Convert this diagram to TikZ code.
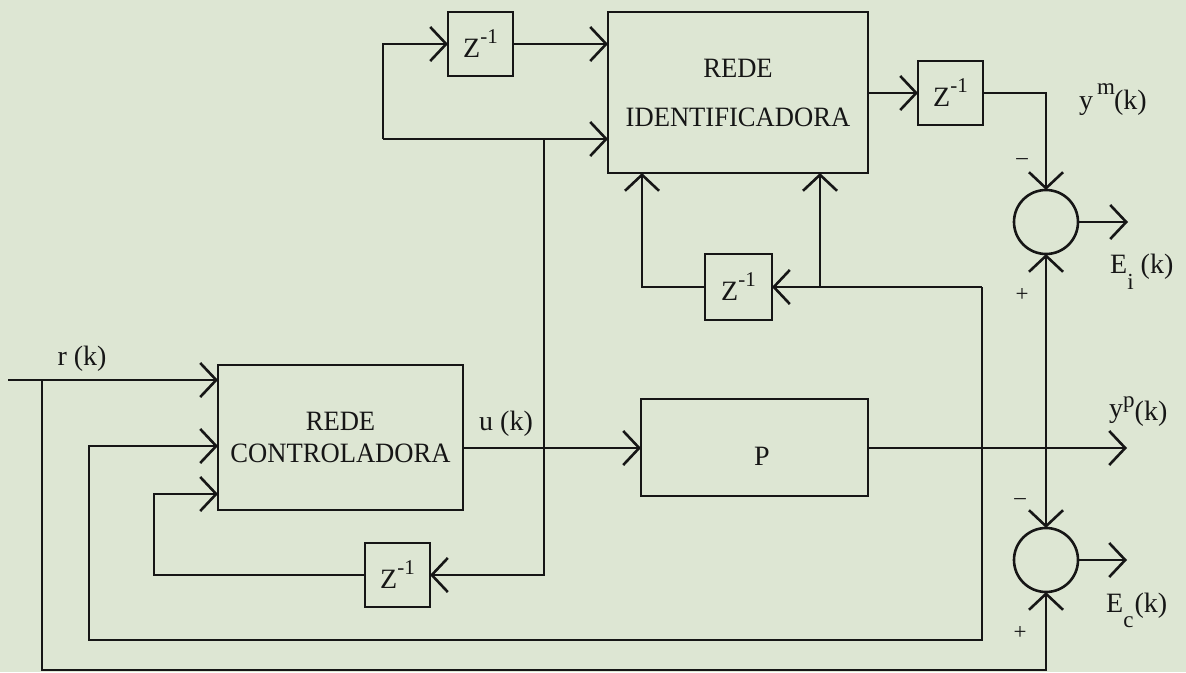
\documentclass[tikz,border=0pt]{standalone}
\usepackage{fontspec}
\setmainfont{Liberation Serif}
\newfontfamily\boxfont{Liberation Serif}[FakeStretch=0.95]
\usetikzlibrary{arrows.meta}
\definecolor{bgc}{RGB}{221,230,211}
\definecolor{inkc}{RGB}{22,22,22}
\newcommand{\zinv}{Z\raisebox{14pt}{\fontsize{21}{21}\selectfont -1}}
\newcommand{\smallsc}{\fontsize{23}{23}\selectfont}
\begin{document}
\begin{tikzpicture}[x=1pt,y=-1pt,
  every node/.style={text=inkc,font=\fontsize{28}{30}\selectfont},
  blk/.style={draw=inkc,line width=2.6pt,inner sep=0pt,outer sep=0pt,align=center},
  zbox/.style={blk,minimum width=65pt,minimum height=64pt},
  sumnode/.style={draw=inkc,line width=2.6pt,circle,minimum size=64pt,inner sep=0pt,outer sep=0pt},
  wire/.style={draw=inkc,line width=2.6pt,line join=miter},
  arr/.style={wire,-{Straight Barb[length=16pt,width=34pt]}},
  darr/.style={wire,{Straight Barb[length=16pt,width=34pt]}-{Straight Barb[length=16pt,width=34pt]}},
  sgn/.style={font=\fontsize{23}{23}\selectfont,inner sep=0pt}]
\useasboundingbox (0,0) rectangle (1186,672);
\fill[bgc] (0,0) rectangle (1186,672);

% blocks
\node[zbox] (z1) at (480.5,44) {\zinv};
\node[blk,minimum width=260pt,minimum height=161pt,font=\boxfont\fontsize{28}{49}\selectfont] (ident) at (738,92.5) {REDE\\IDENTIFICADORA};
\node[zbox] (z3) at (950.5,93) {\zinv};
\node[zbox,minimum width=67pt,minimum height=66pt] (z2) at (738.5,287) {\zinv};
\node[blk,minimum width=245pt,minimum height=145pt,font=\boxfont\fontsize{28}{32}\selectfont] (ctrl) at (340.5,437.5) {REDE\\CONTROLADORA};
\node[blk,minimum width=227pt,minimum height=97pt] (P) at (754.5,447.5) {};
\node[inner sep=0pt] (Pt) at (762,456) {P};
\node[zbox] (z4) at (397.5,575) {\zinv};
\node[sumnode] (s1) at (1046,222) {};
\node[sumnode] (s2) at (1046,560) {};

% coordinates
\coordinate (rin) at (8,380);
\coordinate (rj) at (42,380);
\coordinate (bot) at (1046,670);
\coordinate (fb) at (982,287);
\coordinate (fbb) at (982,640);
\coordinate (in2) at (89,446);
\coordinate (in3) at (154,494);
\coordinate (uj) at (544,448);
\coordinate (ut) at (544,139);
\coordinate (ub) at (544,575);
\coordinate (tl) at (383,139);
\coordinate (b1) at (642,287);
\coordinate (b2) at (820,287);
\coordinate (yp) at (1127,448);
\coordinate (ei) at (1128,222);
\coordinate (ec) at (1127,560);

% connectors
\draw[arr] (rin) -- (ctrl.west |- rin);
\draw[arr] (rj) |- (bot) -- (s2.south);
\draw[arr] (fb) -- (fbb) -| (in2) -- (ctrl.west |- in2);
\draw[arr] (fb) -- (z2.east);
\draw[arr] (b2) -- (ident.south -| b2);
\draw[arr] (z2.west) -| (ident.south -| b1);
\draw[arr] (ctrl.east |- uj) -- (P.west |- uj);
\draw[arr] (ut) -- (ub) -- (z4.east);
\draw[arr] (z4.west) -| (in3) -- (ctrl.west |- in3);
\draw[arr] (tl) -- (ident.west |- tl);
\draw[arr] (tl) |- (z1.west);
\draw[arr] (z1.east) -- (ident.west |- z1.east);
\draw[arr] (ident.east |- z3.west) -- (z3.west);
\draw[arr] (z3.east) -| (s1.north);
\draw[arr] (P.east |- yp) -- (yp);
\draw[darr] (s1.south) -- (s2.north);
\draw[arr] (s1.east) -- (ei);
\draw[arr] (s2.east) -- (ec);

% labels
\node[inner sep=0pt] (lr) at (82,359) {r (k)};
\node[inner sep=0pt] (lu) at (506,424) {u (k)};
\node[inner sep=0pt,anchor=base west] (lym) at (1079,109) {y\hspace{4pt}\raisebox{15pt}{\smallsc m}\hspace{-1pt}(k)};
\node[inner sep=0pt,anchor=base west] (lyp) at (1109,417) {y\raisebox{10pt}{\smallsc p}\raisebox{-3pt}{(k)}};
\node[inner sep=0pt,anchor=base west] (lei) at (1110,273) {E\raisebox{-16pt}{\smallsc i}\hspace{7pt}(k)};
\node[inner sep=0pt,anchor=base west] (lec) at (1106,612) {E\raisebox{-15pt}{\smallsc c}\hspace{1pt}(k)};
\node[sgn] (m1) at (1022,162) {–};
\node[sgn] (p1) at (1022,295) {+};
\node[sgn] (m2) at (1020,502) {–};
\node[sgn] (p2) at (1020,633) {+};
\end{tikzpicture}
\end{document}
